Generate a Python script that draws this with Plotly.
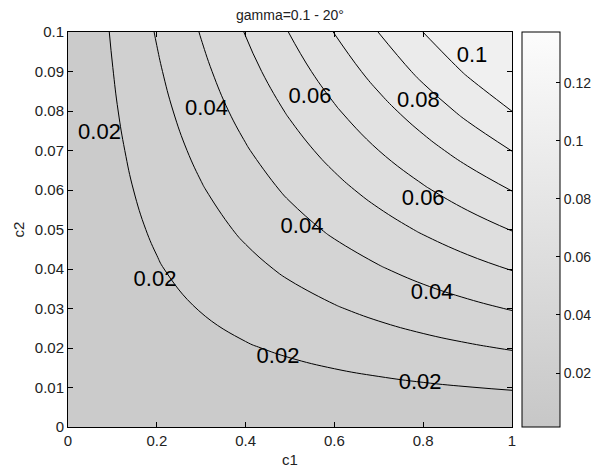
import plotly.graph_objects as go

# grid of the field (c1 along columns, c2 along rows)
c1_grid = [0.0, 0.1, 0.2, 0.3, 0.4, 0.5, 0.6, 0.7, 0.8, 0.9, 1.0]
c2_grid = [0.0, 0.01, 0.02, 0.03, 0.04, 0.05, 0.06, 0.07, 0.08, 0.09, 0.1]
z_vals = [
    [0.0014, 0.0014, 0.0014, 0.0014, 0.0014, 0.0014, 0.0014, 0.0014, 0.0014, 0.0014, 0.0014],
    [0.0014, 0.0029, 0.0044, 0.0059, 0.0073, 0.0087, 0.0100, 0.0113, 0.0126, 0.0138, 0.0150],
    [0.0014, 0.0044, 0.0074, 0.0103, 0.0131, 0.0158, 0.0185, 0.0211, 0.0237, 0.0262, 0.0286],
    [0.0014, 0.0059, 0.0103, 0.0145, 0.0188, 0.0229, 0.0269, 0.0309, 0.0348, 0.0385, 0.0422],
    [0.0014, 0.0073, 0.0131, 0.0188, 0.0244, 0.0298, 0.0352, 0.0405, 0.0457, 0.0508, 0.0558],
    [0.0014, 0.0087, 0.0158, 0.0229, 0.0298, 0.0367, 0.0435, 0.0501, 0.0567, 0.0631, 0.0695],
    [0.0014, 0.0100, 0.0185, 0.0269, 0.0352, 0.0435, 0.0516, 0.0596, 0.0675, 0.0753, 0.0831],
    [0.0014, 0.0113, 0.0211, 0.0309, 0.0405, 0.0501, 0.0596, 0.0690, 0.0783, 0.0875, 0.0967],
    [0.0014, 0.0126, 0.0237, 0.0348, 0.0457, 0.0567, 0.0675, 0.0783, 0.0890, 0.0997, 0.1103],
    [0.0014, 0.0138, 0.0262, 0.0385, 0.0508, 0.0631, 0.0753, 0.0875, 0.0997, 0.1118, 0.1239],
    [0.0014, 0.0150, 0.0286, 0.0422, 0.0558, 0.0695, 0.0831, 0.0967, 0.1103, 0.1239, 0.1375],
]
z_min = 0.0014
z_max = 0.1375
level_start = 0.01404
level_size = 0.013738
level_end = 0.12394

# contour labels as they appear on the picture
label_text = ["0.02", "0.04", "0.06", "0.08", "0.1", "0.06", "0.04", "0.04", "0.02", "0.02", "0.02"]
label_c1 = [0.071, 0.312, 0.545, 0.789, 0.910, 0.800, 0.527, 0.820, 0.196, 0.473, 0.793]
label_c2 = [0.0744, 0.0805, 0.0833, 0.0823, 0.0939, 0.0577, 0.0504, 0.0337, 0.0370, 0.0177, 0.0109]

x_ticks = [0, 0.2, 0.4, 0.6, 0.8, 1]
x_ticktext = ["0", "0.2", "0.4", "0.6", "0.8", "1"]
y_ticks = [0, 0.01, 0.02, 0.03, 0.04, 0.05, 0.06, 0.07, 0.08, 0.09, 0.1]
y_ticktext = ["0", "0.01", "0.02", "0.03", "0.04", "0.05", "0.06", "0.07", "0.08", "0.09", "0.1"]
cb_ticks = [0.02, 0.04, 0.06, 0.08, 0.1, 0.12]
cb_ticktext = ["0.02", "0.04", "0.06", "0.08", "0.1", "0.12"]

FONT = "Liberation Sans, Arial, sans-serif"
W, H = 595, 470
L, R, T, B = 68, 512, 32, 427
PW, PH = R - L, B - T

fig = go.Figure()

# continuous colour bar (hidden under the filled contours)
fig.add_trace(go.Heatmap(
    x=c1_grid, y=c2_grid, z=z_vals,
    zmin=z_min, zmax=z_max,
    colorscale=[[0, "#c7c7c7"], [1, "#fcfcfc"]],
    hoverinfo="skip",
    colorbar=dict(
        x=(522 - L) / PW, xanchor="left", xpad=0,
        y=0.5, yanchor="middle", ypad=0,
        len=1, lenmode="fraction",
        thickness=38,
        outlinewidth=1, outlinecolor="black",
        tickmode="array", tickvals=cb_ticks, ticktext=cb_ticktext,
        ticks="inside", ticklen=4, tickcolor="black",
        tickfont=dict(family=FONT, size=14, color="#222"),
    ),
))

fig.add_trace(go.Contour(
    x=c1_grid, y=c2_grid, z=z_vals,
    autocontour=False,
    contours=dict(start=level_start, end=level_end, size=level_size,
                  coloring="fill", showlabels=False),
    colorscale=[[0, "#cbcbcb"], [1, "#f0f0f0"]],
    line=dict(color="black", width=1, smoothing=1.3),
    showscale=False,
    hoverinfo="skip",
))

fig.add_trace(go.Scatter(
    x=label_c1, y=label_c2, text=label_text, mode="text",
    textposition="middle center",
    textfont=dict(family=FONT, size=22, color="black"),
    hoverinfo="skip", showlegend=False,
))

axis_common = dict(
    showgrid=False, zeroline=False, showline=True, linecolor="black", linewidth=1,
    mirror="ticks", ticks="inside", ticklen=5, tickcolor="black",
    tickfont=dict(family=FONT, size=15, color="#222"),
)

fig.update_layout(
    width=W, height=H,
    margin=dict(l=L, r=W - R, t=T, b=H - B, autoexpand=False),
    paper_bgcolor="white", plot_bgcolor="white",
    showlegend=False,
    xaxis=dict(range=[0, 1], tickmode="array", tickvals=x_ticks, ticktext=x_ticktext, **axis_common),
    yaxis=dict(range=[0, 0.1], tickmode="array", tickvals=y_ticks, ticktext=y_ticktext, **axis_common),
    annotations=[
        dict(text="gamma=0.1 - 20°", x=0.5, xref="paper", y=(B - 15) / PH, yref="paper",
             xanchor="center", yanchor="middle", showarrow=False,
             font=dict(family=FONT, size=14, color="#222")),
        dict(text="c1", x=0.5, xref="paper", y=(B - 459) / PH, yref="paper",
             xanchor="center", yanchor="middle", showarrow=False,
             font=dict(family=FONT, size=15, color="#222")),
        dict(text="c2", x=(18 - L) / PW, xref="paper", y=0.5, yref="paper",
             xanchor="center", yanchor="middle", showarrow=False, textangle=-90,
             font=dict(family=FONT, size=15, color="#222")),
    ],
)

fig.write_html("out.html")
